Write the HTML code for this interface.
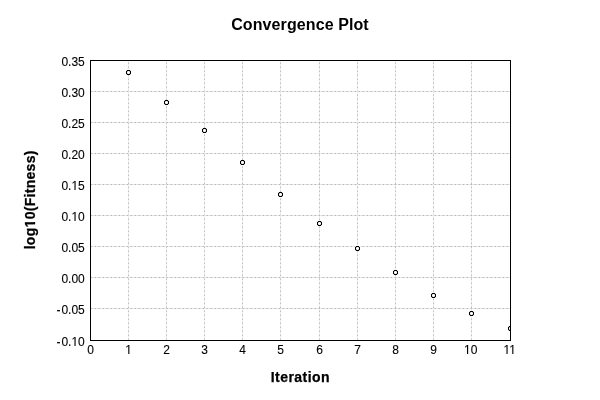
<!DOCTYPE html>
<html><head><meta charset="utf-8"><title>Convergence Plot</title>
<style>
html,body{margin:0;padding:0;background:#fff;}
body{width:600px;height:400px;overflow:hidden;}
svg{display:block;will-change:transform;}
text{font-family:"Liberation Sans",Arial,sans-serif;fill:#000;}
.t{font-size:12px;stroke:#000;stroke-width:0.1px;}
.b{font-weight:bold;font-size:14px;stroke:#000;stroke-width:0.25px;}
.g{stroke:#c0c0c0;stroke-width:1;stroke-dasharray:1.67 2.33;}
.gb{stroke:#f0f0f0;stroke-width:1;}
.hb{stroke:#e8e8e8;}
.h{stroke:#b8b8b8;stroke-dasharray:1.55 2.45;}
.p{shape-rendering:crispEdges;}
</style></head><body>
<svg width="600" height="400" viewBox="0 0 600 400">
<rect width="600" height="400" fill="#fff"/>
<defs><clipPath id="c"><rect x="90" y="60" width="421" height="281"/></clipPath>
<g id="m" class="p"><rect x="-1" y="-1" width="3" height="3" fill="#fff"/><path d="M-1-2h3v1h-3zM-1 2h3v1h-3zM-2-1h1v3h-1zM2-1h1v3h-1z" fill="#000"/><path d="M-1-1h1v1h-1zM1-1h1v1h-1zM-1 1h1v1h-1zM1 1h1v1h-1z" fill="#b0b0b0"/><path d="M-2-2h1v1h-1zM2-2h1v1h-1zM-2 2h1v1h-1zM2 2h1v1h-1z" fill="#d8d8d8"/></g>
</defs>
<text x="300" y="30" text-anchor="middle" style="font-weight:bold;font-size:16px;letter-spacing:0.1px">Convergence Plot</text>

<line class="gb" x1="128.5" y1="340" x2="128.5" y2="61"/><line class="g" x1="128.5" y1="340.17" x2="128.5" y2="60"/>
<line class="gb" x1="166.5" y1="340" x2="166.5" y2="61"/><line class="g" x1="166.5" y1="340.17" x2="166.5" y2="60"/>
<line class="gb" x1="204.5" y1="340" x2="204.5" y2="61"/><line class="g" x1="204.5" y1="340.17" x2="204.5" y2="60"/>
<line class="gb" x1="242.5" y1="340" x2="242.5" y2="61"/><line class="g" x1="242.5" y1="340.17" x2="242.5" y2="60"/>
<line class="gb" x1="280.5" y1="340" x2="280.5" y2="61"/><line class="g" x1="280.5" y1="340.17" x2="280.5" y2="60"/>
<line class="gb" x1="319.5" y1="340" x2="319.5" y2="61"/><line class="g" x1="319.5" y1="340.17" x2="319.5" y2="60"/>
<line class="gb" x1="357.5" y1="340" x2="357.5" y2="61"/><line class="g" x1="357.5" y1="340.17" x2="357.5" y2="60"/>
<line class="gb" x1="395.5" y1="340" x2="395.5" y2="61"/><line class="g" x1="395.5" y1="340.17" x2="395.5" y2="60"/>
<line class="gb" x1="433.5" y1="340" x2="433.5" y2="61"/><line class="g" x1="433.5" y1="340.17" x2="433.5" y2="60"/>
<line class="gb" x1="471.5" y1="340" x2="471.5" y2="61"/><line class="g" x1="471.5" y1="340.17" x2="471.5" y2="60"/>
<line class="gb hb" x1="91" y1="91.5" x2="510" y2="91.5"/><line class="g h" x1="90.6" y1="91.5" x2="510" y2="91.5"/>
<line class="gb hb" x1="91" y1="122.5" x2="510" y2="122.5"/><line class="g h" x1="90.6" y1="122.5" x2="510" y2="122.5"/>
<line class="gb hb" x1="91" y1="153.5" x2="510" y2="153.5"/><line class="g h" x1="90.6" y1="153.5" x2="510" y2="153.5"/>
<line class="gb hb" x1="91" y1="184.5" x2="510" y2="184.5"/><line class="g h" x1="90.6" y1="184.5" x2="510" y2="184.5"/>
<line class="gb hb" x1="91" y1="215.5" x2="510" y2="215.5"/><line class="g h" x1="90.6" y1="215.5" x2="510" y2="215.5"/>
<line class="gb hb" x1="91" y1="246.5" x2="510" y2="246.5"/><line class="g h" x1="90.6" y1="246.5" x2="510" y2="246.5"/>
<line class="gb hb" x1="91" y1="277.5" x2="510" y2="277.5"/><line class="g h" x1="90.6" y1="277.5" x2="510" y2="277.5"/>
<line class="gb hb" x1="91" y1="308.5" x2="510" y2="308.5"/><line class="g h" x1="90.6" y1="308.5" x2="510" y2="308.5"/>
<g clip-path="url(#c)">
<use href="#m" x="128" y="72"/>
<use href="#m" x="166" y="102"/>
<use href="#m" x="204" y="130"/>
<use href="#m" x="242" y="162"/>
<use href="#m" x="280" y="194"/>
<use href="#m" x="319" y="223"/>
<use href="#m" x="357" y="248"/>
<use href="#m" x="395" y="272"/>
<use href="#m" x="433" y="295"/>
<use href="#m" x="471" y="313"/>
<use href="#m" x="510" y="328"/>
</g>
<rect x="90.5" y="60.5" width="420" height="280" fill="none" stroke="#000" stroke-width="1" shape-rendering="crispEdges"/>
<text class="t" x="84.8" y="66" text-anchor="end">0.35</text>
<text class="t" x="84.8" y="97" text-anchor="end">0.30</text>
<text class="t" x="84.8" y="128" text-anchor="end">0.25</text>
<text class="t" x="84.8" y="159" text-anchor="end">0.20</text>
<text class="t" x="84.8" y="190" text-anchor="end">0.15</text>
<text class="t" x="84.8" y="221" text-anchor="end">0.10</text>
<text class="t" x="84.8" y="252" text-anchor="end">0.05</text>
<text class="t" x="84.8" y="283" text-anchor="end">0.00</text>
<text class="t" x="84.8" y="314" text-anchor="end"><tspan letter-spacing="1">-</tspan>0.05</text>
<text class="t" x="84.8" y="346" text-anchor="end"><tspan letter-spacing="1">-</tspan>0.10</text>
<text class="t" x="90.5" y="354" text-anchor="middle">0</text>
<text class="t" x="128.5" y="354" text-anchor="middle">1</text>
<text class="t" x="166.5" y="354" text-anchor="middle">2</text>
<text class="t" x="204.5" y="354" text-anchor="middle">3</text>
<text class="t" x="242.5" y="354" text-anchor="middle">4</text>
<text class="t" x="280.5" y="354" text-anchor="middle">5</text>
<text class="t" x="319.5" y="354" text-anchor="middle">6</text>
<text class="t" x="357.5" y="354" text-anchor="middle">7</text>
<text class="t" x="395.5" y="354" text-anchor="middle">8</text>
<text class="t" x="433.5" y="354" text-anchor="middle">9</text>
<text class="t" x="470.8" y="354" text-anchor="middle">10</text>
<text class="t" x="509.8" y="354" text-anchor="middle">11</text>
<text class="b" x="300.4" y="382" text-anchor="middle" style="letter-spacing:0.47px">Iteration</text>
<text class="b" transform="translate(34.5,199.8) rotate(-90)" text-anchor="middle" style="letter-spacing:0.3px">log10(Fitness)</text>
<g fill="#fff" shape-rendering="crispEdges"><rect x="72" y="189" width="2" height="1"/><rect x="76" y="189" width="2" height="1"/><rect x="74" y="189" width="2" height="1" fill-opacity="0.45"/><rect x="72" y="220" width="2" height="1"/><rect x="76" y="220" width="2" height="1"/><rect x="74" y="220" width="2" height="1" fill-opacity="0.45"/><rect x="72" y="345" width="2" height="1"/><rect x="76" y="345" width="2" height="1"/><rect x="74" y="345" width="2" height="1" fill-opacity="0.45"/><rect x="126" y="353" width="2" height="1"/><rect x="130" y="353" width="2" height="1"/><rect x="128" y="353" width="1" height="1" fill-opacity="0.25"/><rect x="129" y="353" width="1" height="1" fill-opacity="0.6"/><rect x="464" y="353" width="3" height="1"/><rect x="469" y="353" width="2" height="1"/><rect x="468" y="353" width="1" height="1" fill-opacity="0.83"/><rect x="504" y="353" width="2" height="1"/><rect x="508" y="353" width="2" height="1"/><rect x="506" y="353" width="2" height="1" fill-opacity="0.45"/><rect x="510" y="353" width="2" height="1"/><rect x="514" y="353" width="2" height="1"/><rect x="512" y="353" width="1" height="1" fill-opacity="0.25"/><rect x="513" y="353" width="1" height="1" fill-opacity="0.6"/><rect x="33" y="220" width="3" height="2"/><rect x="33" y="225" width="3" height="2"/><rect x="33" y="224" width="2" height="1" fill-opacity="0.56"/><rect x="35" y="224" width="1" height="1"/></g>
</svg></body></html>
